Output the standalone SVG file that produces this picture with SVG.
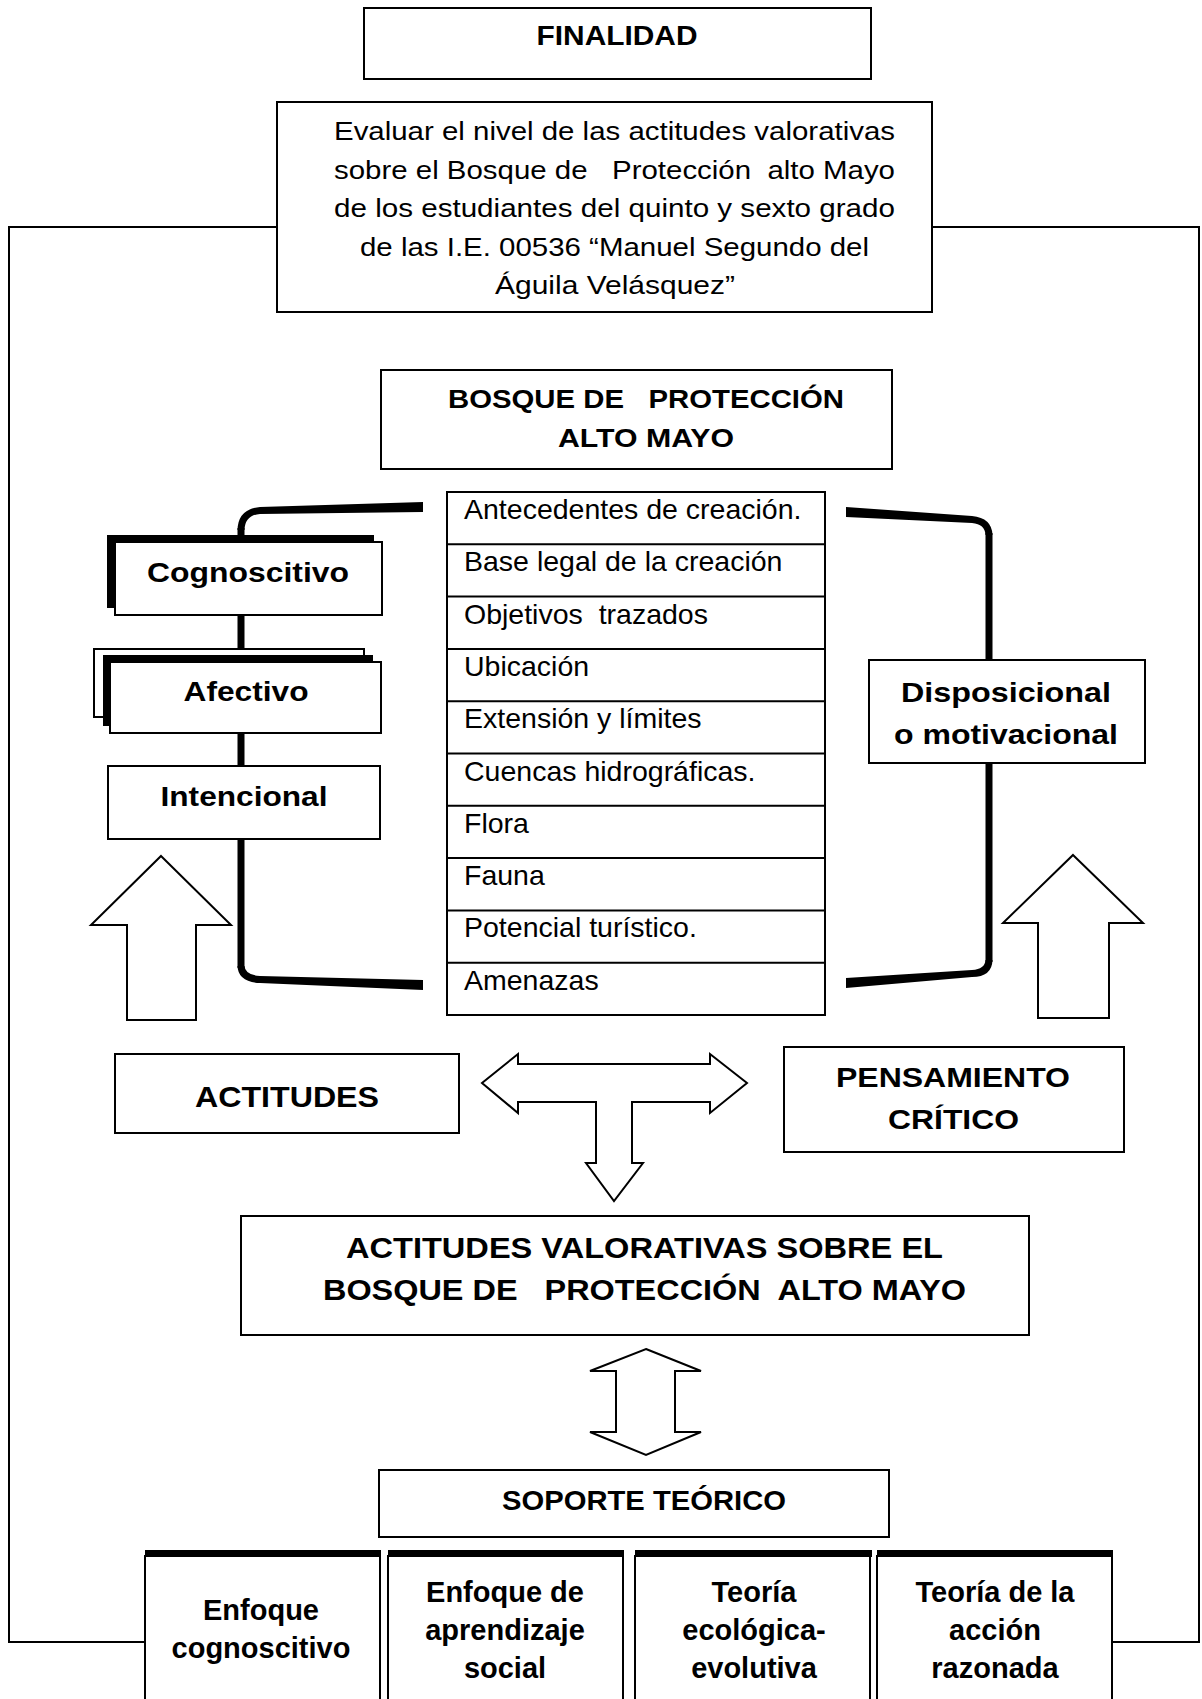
<svg xmlns="http://www.w3.org/2000/svg" width="1202" height="1699" viewBox="0 0 1202 1699">
<style>
.bx{fill:#fff;stroke:#000;stroke-width:2}
.ar{fill:#fff;stroke:#000;stroke-width:2;stroke-linejoin:miter}
.ln{fill:none;stroke:#000;stroke-width:2}
.vt{fill:none;stroke:#000;stroke-width:7}
.bf{fill:#000;stroke:none}
text{font-family:"Liberation Sans",Arial,sans-serif;fill:#000}
.b{font-weight:bold}
.c{text-anchor:middle}
.li{font-size:28.5px}
</style>
<rect width="1202" height="1699" fill="#fff"/>

<g id="connectors">
  <path class="ln" d="M277 227 H9 V1642 H145"/>
  <path class="ln" d="M932 227 H1199 V1642 H1112"/>
  <line class="vt" x1="241" y1="528" x2="241" y2="968"/>
  <path class="bf" d="M423 502 L260 507 Q238 509 237.5 530 L244.5 530 Q245 515 260 514 L423 512 Z"/>
  <path class="bf" d="M423 980 L260 976 Q245 975 244.5 966 L237.5 966 Q238 982 260 983 L423 990 Z"/>
  <line class="vt" x1="989" y1="533" x2="989" y2="962"/>
  <path class="bf" d="M846 507 L972 516 Q992 518 992.5 535 L985.5 535 Q985 524 972 523 L846 517 Z"/>
  <path class="bf" d="M846 978 L972 970 Q985 969 985.5 960 L992.5 960 Q992 977 972 977 L846 988 Z"/>
  <polygon id="arrow-left-up" class="ar" points="161,856 231,925 196,925 196,1020 127,1020 127,925 91,925"/>
  <polygon id="arrow-right-up" class="ar" points="1073,855 1143,923 1109,923 1109,1018 1038,1018 1038,923 1003,923"/>
  <polygon id="arrow-t" class="ar" points="482,1083 518,1054 518,1064 710,1064 710,1054 747,1083 710,1113 710,1102 632,1102 632,1163 643,1163 614,1201 586,1163 596,1163 596,1102 518,1102 518,1113"/>
  <polygon id="arrow-double" class="ar" points="646,1349 701,1371 675,1371 675,1432 701,1432 646,1455 590,1432 616,1432 616,1371 590,1371"/>
</g>

<g id="finalidad">
  <rect class="bx" x="364" y="8" width="507" height="71"/>
  <text class="b c" x="617" y="45" font-size="28" textLength="161" lengthAdjust="spacingAndGlyphs">FINALIDAD</text>
</g>

<g id="evaluar">
  <rect class="bx" x="277" y="102" width="655" height="210"/>
  <g font-size="25">
    <text class="c" x="614.5" y="140" textLength="561" lengthAdjust="spacingAndGlyphs">Evaluar el nivel de las actitudes valorativas</text>
    <text class="c" x="614.5" y="178.5" textLength="561" lengthAdjust="spacingAndGlyphs" xml:space="preserve">sobre el Bosque de   Protección  alto Mayo</text>
    <text class="c" x="614.5" y="217" textLength="561" lengthAdjust="spacingAndGlyphs">de los estudiantes del quinto y sexto grado</text>
    <text class="c" x="614.5" y="255.5" textLength="509" lengthAdjust="spacingAndGlyphs">de las I.E. 00536 “Manuel Segundo del</text>
    <text class="c" x="615" y="294" textLength="240" lengthAdjust="spacingAndGlyphs">Águila Velásquez”</text>
  </g>
</g>

<g id="bosque">
  <rect class="bx" x="381" y="370" width="511" height="99"/>
  <text class="b c" x="646" y="408" font-size="26" textLength="396" lengthAdjust="spacingAndGlyphs" xml:space="preserve">BOSQUE DE   PROTECCIÓN</text>
  <text class="b c" x="646" y="447" font-size="26" textLength="176" lengthAdjust="spacingAndGlyphs">ALTO MAYO</text>
</g>

<g id="lista">
  <rect class="bx" x="447" y="492" width="378" height="523"/>
  <path class="ln" d="M447 544.3H825M447 596.6H825M447 648.9H825M447 701.2H825M447 753.5H825M447 805.8H825M447 858.1H825M447 910.4H825M447 962.7H825"/>
  <text class="li" x="464" y="519">Antecedentes de creación.</text>
  <text class="li" x="464" y="571.3">Base legal de la creación</text>
  <text class="li" x="464" y="623.6" xml:space="preserve">Objetivos  trazados</text>
  <text class="li" x="464" y="675.9">Ubicación</text>
  <text class="li" x="464" y="728.2">Extensión y límites</text>
  <text class="li" x="464" y="780.5">Cuencas hidrográficas.</text>
  <text class="li" x="464" y="832.8">Flora</text>
  <text class="li" x="464" y="885.1">Fauna</text>
  <text class="li" x="464" y="937.4">Potencial turístico.</text>
  <text class="li" x="464" y="989.7">Amenazas</text>
</g>

<g id="cognoscitivo">
  <rect x="107" y="535" width="267" height="73" fill="#000"/>
  <rect class="bx" x="115" y="542" width="267" height="73"/>
  <text class="b c" x="248" y="582" font-size="27" textLength="202" lengthAdjust="spacingAndGlyphs">Cognoscitivo</text>
</g>

<g id="afectivo">
  <rect class="bx" x="94" y="649" width="270" height="68" stroke-width="1.5"/>
  <rect x="103" y="655" width="270" height="71" fill="#000"/>
  <rect class="bx" x="110" y="662" width="271" height="71"/>
  <text class="b c" x="246" y="701" font-size="27" textLength="125" lengthAdjust="spacingAndGlyphs">Afectivo</text>
</g>

<g id="intencional">
  <rect class="bx" x="108" y="766" width="272" height="73"/>
  <text class="b c" x="244" y="806" font-size="27" textLength="167" lengthAdjust="spacingAndGlyphs">Intencional</text>
</g>

<g id="disposicional">
  <rect class="bx" x="869" y="660" width="276" height="103"/>
  <text class="b c" x="1006" y="702" font-size="28" textLength="210" lengthAdjust="spacingAndGlyphs">Disposicional</text>
  <text class="b c" x="1006" y="744" font-size="28" textLength="224" lengthAdjust="spacingAndGlyphs">o motivacional</text>
</g>

<g id="actitudes">
  <rect class="bx" x="115" y="1054" width="344" height="79"/>
  <text class="b c" x="287" y="1107" font-size="30" textLength="184" lengthAdjust="spacingAndGlyphs">ACTITUDES</text>
</g>

<g id="pensamiento">
  <rect class="bx" x="784" y="1047" width="340" height="105"/>
  <text class="b c" x="953" y="1087" font-size="28" textLength="234" lengthAdjust="spacingAndGlyphs">PENSAMIENTO</text>
  <text class="b c" x="953.5" y="1129" font-size="28" textLength="131" lengthAdjust="spacingAndGlyphs">CRÍTICO</text>
</g>

<g id="actitudes-valorativas">
  <rect class="bx" x="241" y="1216" width="788" height="119"/>
  <text class="b c" x="644.5" y="1258" font-size="29" textLength="597" lengthAdjust="spacingAndGlyphs">ACTITUDES VALORATIVAS SOBRE EL</text>
  <text class="b c" x="644.5" y="1300" font-size="29" textLength="643" lengthAdjust="spacingAndGlyphs" xml:space="preserve">BOSQUE DE   PROTECCIÓN  ALTO MAYO</text>
</g>

<g id="soporte">
  <rect class="bx" x="379" y="1470" width="510" height="67"/>
  <text class="b c" x="644" y="1510" font-size="28" textLength="284" lengthAdjust="spacingAndGlyphs">SOPORTE TEÓRICO</text>
</g>

<g id="enfoque-cognoscitivo">
  <rect class="bx" x="145" y="1556" width="235" height="160"/>
  <rect x="145" y="1550" width="236" height="7" fill="#000"/>
  <text class="b c" x="261" y="1620" font-size="29">Enfoque</text>
  <text class="b c" x="261" y="1658" font-size="29">cognoscitivo</text>
</g>

<g id="aprendizaje-social">
  <rect class="bx" x="388" y="1556" width="235" height="160"/>
  <rect x="388" y="1550" width="236" height="7" fill="#000"/>
  <text class="b c" x="505" y="1602" font-size="29">Enfoque de</text>
  <text class="b c" x="505" y="1640" font-size="29">aprendizaje</text>
  <text class="b c" x="505" y="1678" font-size="29">social</text>
</g>

<g id="ecologica-evolutiva">
  <rect class="bx" x="635" y="1556" width="235" height="160"/>
  <rect x="635" y="1550" width="237" height="7" fill="#000"/>
  <text class="b c" x="754" y="1602" font-size="29">Teoría</text>
  <text class="b c" x="754" y="1640" font-size="29">ecológica-</text>
  <text class="b c" x="754" y="1678" font-size="29">evolutiva</text>
</g>

<g id="accion-razonada">
  <rect class="bx" x="877" y="1556" width="235" height="160"/>
  <rect x="877" y="1550" width="236" height="7" fill="#000"/>
  <text class="b c" x="995" y="1602" font-size="29">Teoría de la</text>
  <text class="b c" x="995" y="1640" font-size="29">acción</text>
  <text class="b c" x="995" y="1678" font-size="29">razonada</text>
</g>
</svg>
